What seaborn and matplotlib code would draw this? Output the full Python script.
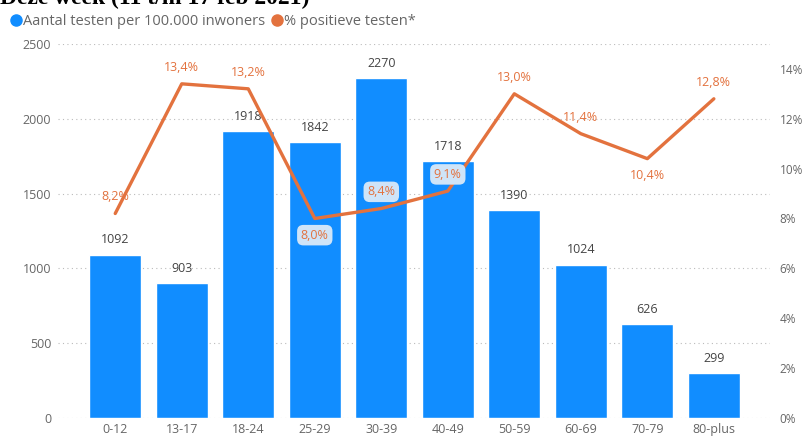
import numpy as np
import matplotlib
matplotlib.use("Agg")
import matplotlib.pyplot as plt
import seaborn as sns
import pandas as pd
from matplotlib.lines import Line2D

# data
groups = ["0-12", "13-17", "18-24", "25-29", "30-39", "40-49", "50-59", "60-69", "70-79", "80-plus"]
tests = [1092, 903, 1918, 1842, 2270, 1718, 1390, 1024, 626, 299]
positive = [8.2, 13.4, 13.2, 8.0, 8.4, 9.1, 13.0, 11.4, 10.4, 12.8]
left_ticks = [0, 500, 1000, 1500, 2000, 2500]
right_ticks = [0, 2, 4, 6, 8, 10, 12, 14]

BLUE = "#118DFF"
ORANGE = "#E3723E"
GREY = "#666666"

sns.set_style("white")
plt.rcParams['font.family'] = ['Open Sans', 'DejaVu Sans']

df = pd.DataFrame({"groep": groups, "testen": tests, "positief": positive})

fig = plt.figure(figsize=(8.06, 4.38), dpi=100)
ax = fig.add_axes([0.072, 0.0457, 0.883, 0.854])

sns.barplot(data=df, x="groep", y="testen", color=BLUE, saturation=1, width=0.78, ax=ax)
ax.set_ylim(0, 2500)
ax.set_xlim(-0.86, 9.84)
ax.set_yticks(left_ticks)
ax.set_yticklabels([str(t) for t in left_ticks])
ax.yaxis.grid(True, linestyle=(0, (1, 3)), color="#BBBBBB", linewidth=0.8)
ax.set_axisbelow(True)
ax.set_xlabel("")
ax.set_ylabel("")
ax.tick_params(axis="both", length=0, colors=GREY, labelsize=9)
ax.tick_params(axis="y", pad=5)
for s in ax.spines.values():
    s.set_visible(False)

for i, v in enumerate(tests):
    ax.annotate(str(v), (i, v), xytext=(0, 6), textcoords="offset points",
                ha="center", va="bottom", fontsize=9, color="#444444")

ax2 = ax.twinx()
x_pos = np.arange(len(groups))
sns.lineplot(x=x_pos, y=positive, color=ORANGE, linewidth=2.4, ax=ax2)
ax2.set_ylim(0, 15)
ax2.set_yticks(right_ticks)
ax2.set_yticklabels([f"{t}%" for t in right_ticks])
ax2.tick_params(axis="y", length=0, colors=GREY, labelsize=8.5, pad=7)
for s in ax2.spines.values():
    s.set_visible(False)

below = {3, 8}
boxed = {3, 4, 5}
for i, v in enumerate(positive):
    dy = -12 if i in below else 12
    txt = f"{v:.1f}%".replace(".", ",")
    kw = {}
    if i in boxed:
        kw["bbox"] = dict(boxstyle="round,pad=0.3,rounding_size=0.5", fc="#CFE4F8", ec="none")
    ax2.annotate(txt, (i, v), xytext=(0, dy), textcoords="offset points",
                 ha="center", va="center", fontsize=9, color=ORANGE, **kw)

# title, cut at the top like the screenshot
fig.text(0.0, 1 - 4 / 438, "Deze week (11 t/m 17 feb 2021)", ha="left", va="baseline",
         fontsize=17, fontweight="bold", family="Liberation Serif", color="black")

handles = [
    Line2D([], [], marker="o", linestyle="none", markersize=8, color=BLUE),
    Line2D([], [], marker="o", linestyle="none", markersize=8, color=ORANGE),
]
fig.legend(handles, ["Aantal testen per 100.000 inwoners", "% positieve testen*"],
           loc="upper left", bbox_to_anchor=(0.003, 1 - 8 / 438), ncol=2, frameon=False,
           fontsize=10.5, handletextpad=0.0, columnspacing=0.3, labelcolor=GREY,
           borderaxespad=0, handlelength=1.0)

fig.savefig("out.png", dpi=100)
